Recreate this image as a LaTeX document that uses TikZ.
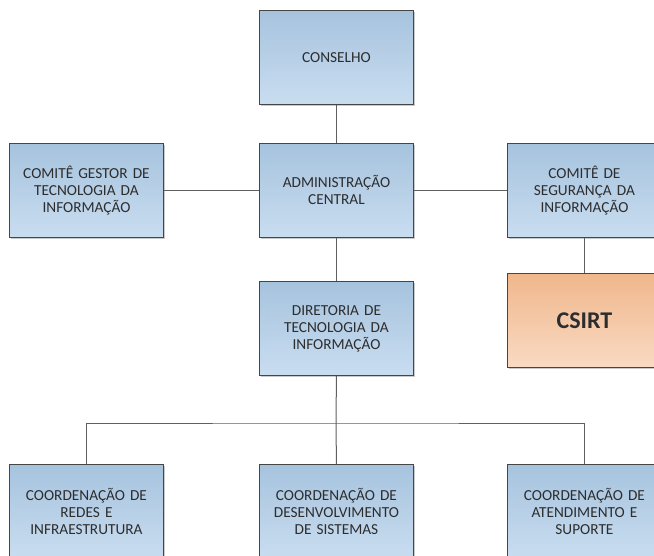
\documentclass[tikz,border=0pt]{standalone}
\usepackage{fontspec}
\setmainfont{Carlito}
\usetikzlibrary{shadows}
\definecolor{boxtop}{RGB}{166,195,222}
\definecolor{boxbot}{RGB}{201,221,240}
\definecolor{orgtop}{RGB}{240,183,140}
\definecolor{orgbot}{RGB}{249,218,194}
\definecolor{edgegray}{RGB}{70,70,70}
\definecolor{linkgray}{RGB}{95,95,95}
\definecolor{txtgray}{RGB}{45,45,45}
\tikzset{
  unit/.style={draw=edgegray, line width=0.9pt, anchor=north west,
    minimum width=154pt, minimum height=94pt, inner sep=2pt,
    top color=boxtop, bottom color=boxbot, text=txtgray,
    align=center, text width=150pt,
    font=\fontsize{15.3}{17}\selectfont,
    drop shadow={shadow xshift=1.2pt, shadow yshift=-1.2pt, opacity=0.35, fill=black!60}},
  csirtbox/.style={unit, top color=orgtop, bottom color=orgbot,
    font=\fontsize{24}{28}\selectfont\bfseries},
  link/.style={draw=linkgray, line width=1pt}
}
\begin{document}
\begin{tikzpicture}[x=1pt,y=-1pt]
\useasboundingbox (0,0) rectangle (654,556);
\clip (0,0) rectangle (654,556);
\node[unit] (cons) at (259,10) {CONSELHO};
\node[unit] (adm) at (259,143) {ADMINISTRAÇÃO\\CENTRAL};
\node[unit] (cgti) at (9,143) {COMITÊ GESTOR DE\\TECNOLOGIA DA\\INFORMAÇÃO};
\node[unit] (csi) at (507,143) {COMITÊ DE\\SEGURANÇA DA\\INFORMAÇÃO};
\node[csirtbox] (csirt) at (507,273) {CSIRT};
\node[unit] (dti) at (259,281) {DIRETORIA DE\\TECNOLOGIA DA\\INFORMAÇÃO};
\node[unit] (redes) at (9,464) {COORDENAÇÃO DE\\REDES E\\INFRAESTRUTURA};
\node[unit] (dev) at (259,464) {COORDENAÇÃO DE\\DESENVOLVIMENTO\\DE SISTEMAS};
\node[unit] (atend) at (507,464) {COORDENAÇÃO DE\\ATENDIMENTO E\\SUPORTE};
\coordinate (bus) at (336,423);
\draw[link] (cons.south) -- (adm.north);
\draw[link] (adm.west) -- (cgti.east);
\draw[link] (adm.east) -- (csi.west);
\draw[link] (csi.south) -- (csirt.north);
\draw[link] (adm.south) -- (dti.north);
\draw[link] (dti.south) -- (bus);
\draw[link] (redes.north) |- (bus) -| (atend.north);
\draw[link] (bus) -- (dev.north);
\end{tikzpicture}
\end{document}
